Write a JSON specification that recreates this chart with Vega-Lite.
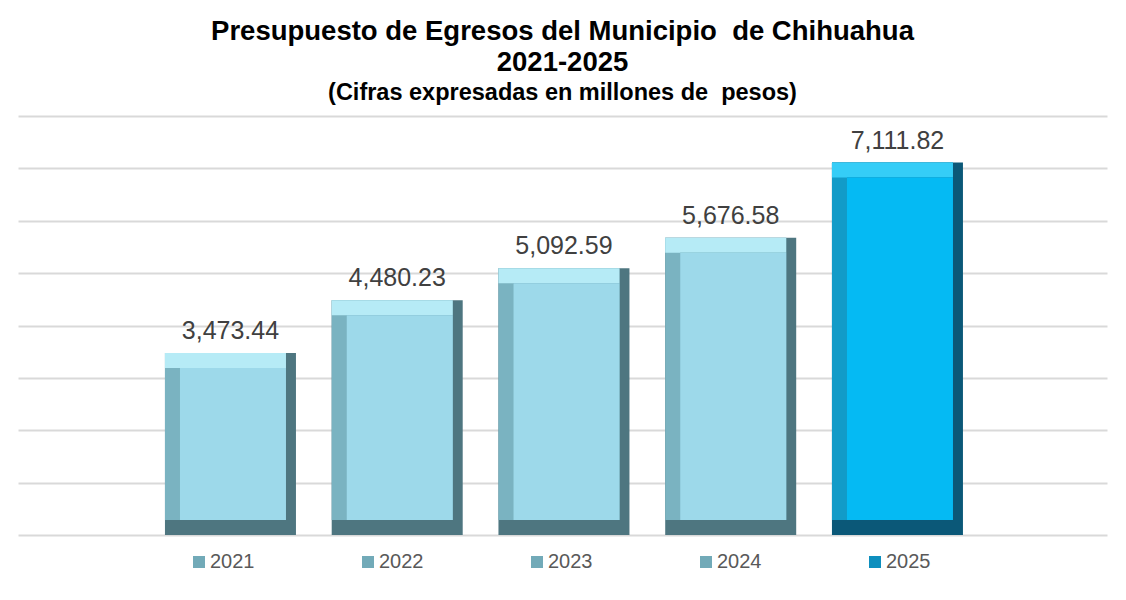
{
  "$schema": "https://vega.github.io/schema/vega-lite/v6.json",
  "width": 1089,
  "height": 419,
  "padding": {"left": 18, "top": 18, "right": 19, "bottom": 5},
  "background": "white",
  "config": {
    "font": "Liberation Sans",
    "view": {"stroke": null}
  },
  "title": {
    "text": ["Presupuesto de Egresos del Municipio \u00a0de Chihuahua", "2021-2025"],
    "subtitle": "(Cifras expresadas en millones de \u00a0pesos)",
    "font": "Liberation Sans",
    "fontSize": 27.5,
    "fontWeight": "bold",
    "lineHeight": 31,
    "color": "#000000",
    "subtitleFont": "Liberation Sans",
    "subtitleFontSize": 23.5,
    "subtitleFontWeight": "bold",
    "subtitleColor": "#000000",
    "subtitlePadding": 4,
    "anchor": "middle",
    "offset": 12
  },
  "data": {
    "values": [
      {"year": "2021", "value": 3473.44},
      {"year": "2022", "value": 4480.23},
      {"year": "2023", "value": 5092.59},
      {"year": "2024", "value": 5676.58},
      {"year": "2025", "value": 7111.82}
    ]
  },
  "encoding": {
    "x": {
      "field": "year",
      "type": "nominal",
      "axis": null,
      "scale": {"paddingInner": 0.2144, "paddingOuter": 0.8726, "align": 0.505, "round": false}
    },
    "y": {
      "field": "value",
      "type": "quantitative",
      "scale": {"domain": [0, 8000], "nice": false},
      "axis": {
        "values": [0, 1000, 2000, 3000, 4000, 5000, 6000, 7000, 8000],
        "labels": false,
        "ticks": false,
        "domain": false,
        "title": null,
        "grid": true,
        "gridColor": "#D9D9D9",
        "gridWidth": 2
      }
    }
  },
  "layer": [
    {
      "mark": {"type": "bar", "width": 131},
      "encoding": {
        "y2": {"datum": 0},
        "color": {
          "condition": {"test": "datum.year === '2025'", "value": "#0B5878"},
          "value": "#4E7680"
        }
      }
    },
    {
      "mark": {"type": "bar", "width": 121, "xOffset": -5, "y2Offset": -15},
      "encoding": {
        "y2": {"datum": 0},
        "color": {
          "condition": {"test": "datum.year === '2025'", "value": "#129BC8"},
          "value": "#7AB3C1"
        }
      }
    },
    {
      "mark": {"type": "bar", "width": 121, "xOffset": -5, "y2Offset": 15},
      "encoding": {
        "y2": {"field": "value"},
        "color": {
          "condition": {"test": "datum.year === '2025'", "value": "#35CDF7"},
          "value": "#B6EBF6"
        }
      }
    },
    {
      "mark": {"type": "bar", "width": 106, "xOffset": 2.5, "yOffset": 15, "y2Offset": -15},
      "encoding": {
        "y2": {"datum": 0},
        "color": {
          "field": "year",
          "type": "nominal",
          "scale": {
            "domain": ["2021", "2022", "2023", "2024", "2025"],
            "range": ["#72AAB8", "#72AAB8", "#72AAB8", "#72AAB8", "#0E8FBE"]
          },
          "legend": {
            "title": null,
            "orient": "none",
            "legendX": 171,
            "legendY": 436,
            "padding": 0,
            "direction": "horizontal",
            "symbolType": "square",
            "symbolSize": 144,
            "symbolStrokeWidth": 0,
            "symbolOpacity": 1,
            "labelFontSize": 20,
            "labelColor": "#595959",
            "labelFont": "Liberation Sans",
            "labelOffset": 1,
            "columnPadding": 103
          }
        }
      }
    },
    {
      "mark": {"type": "bar", "width": 106, "xOffset": 2.5, "yOffset": 15, "y2Offset": -15},
      "encoding": {
        "y2": {"datum": 0},
        "color": {
          "condition": {"test": "datum.year === '2025'", "value": "#05BAF3"},
          "value": "#9DD9EA"
        }
      }
    },
    {
      "mark": {"type": "text", "baseline": "alphabetic", "dy": -14, "fontSize": 25, "color": "#404040", "font": "Liberation Sans"},
      "encoding": {
        "text": {"field": "value", "type": "quantitative", "format": ",.2f"}
      }
    }
  ]
}
